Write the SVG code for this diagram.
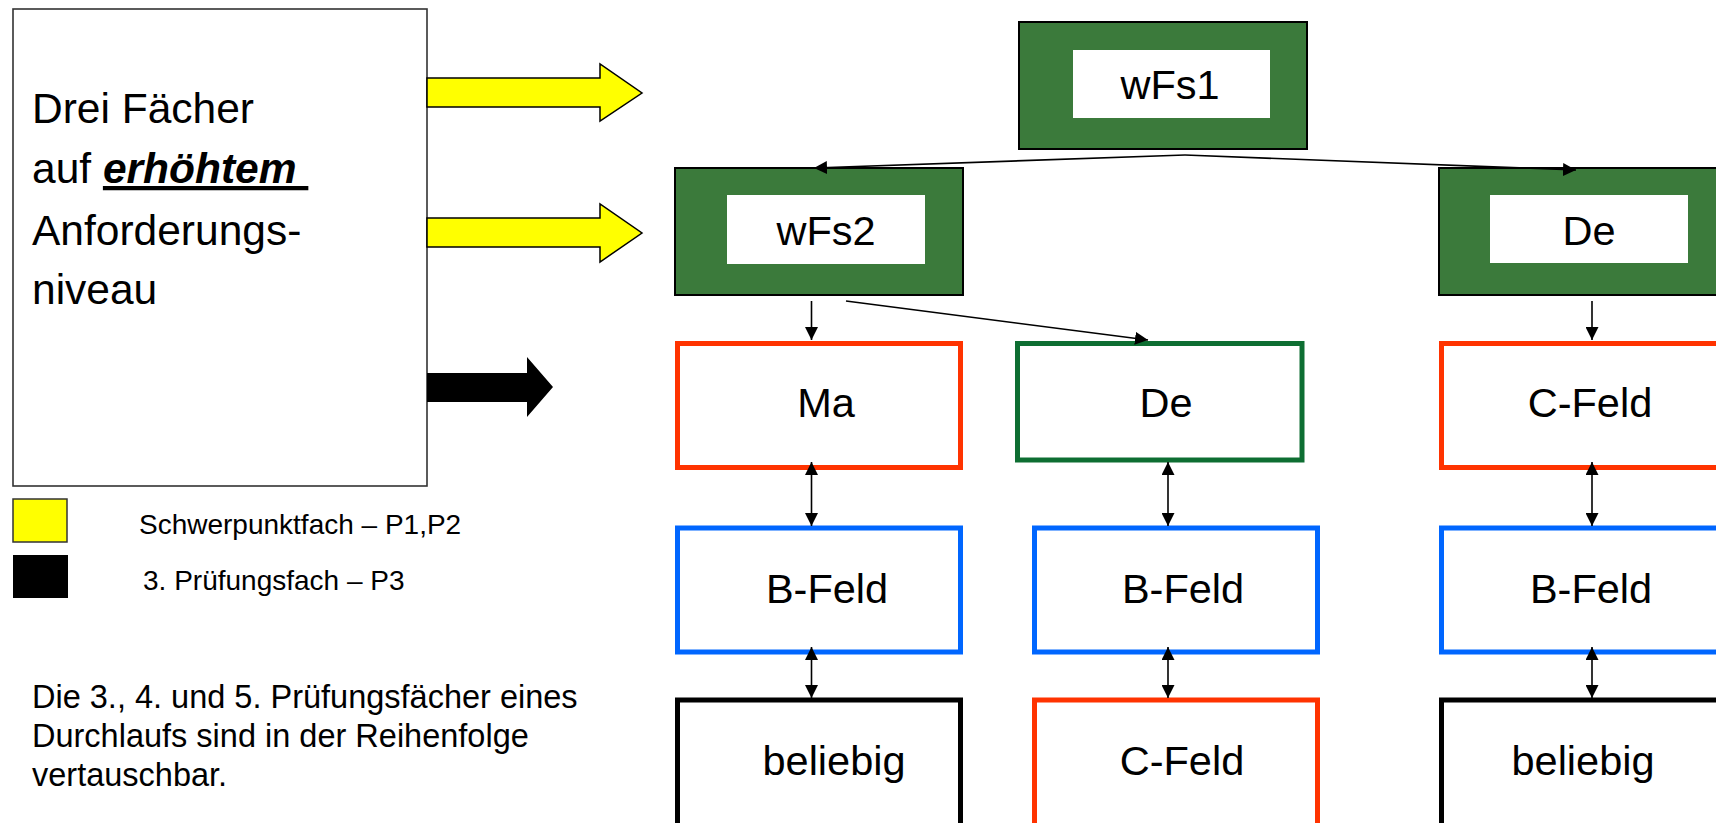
<svg xmlns="http://www.w3.org/2000/svg" width="1716" height="823" viewBox="0 0 1716 823">
  <style>
    text { font-family: "Liberation Sans", Arial, sans-serif; fill: #000; }
    .lbl { font-size: 41.5px; text-anchor: middle; }
    .big { font-size: 42.5px; }
    .leg { font-size: 28px; }
    .par { font-size: 32.5px; }
    .gbox { fill: #3b7a3b; stroke: #000; stroke-width: 2; }
    .inner { fill: #fff; stroke: none; }
    .red { fill: #fff; stroke: #ff3300; stroke-width: 5; }
    .blue { fill: #fff; stroke: #0066ff; stroke-width: 5; }
    .green { fill: #fff; stroke: #0e6e32; stroke-width: 5; }
    .black { fill: #fff; stroke: #000; stroke-width: 5; }
    .conn line { stroke: #000; stroke-width: 1.6; fill: none; }
    .fat { stroke: #000; stroke-width: 1.5; }
  </style>
  <defs>
    <marker id="ah" markerUnits="userSpaceOnUse" markerWidth="14" markerHeight="13" refX="13" refY="6.5" orient="auto-start-reverse">
      <path d="M0,0 L13,6.5 L0,13 z" fill="#000"/>
    </marker>
  </defs>

  <!-- left info box -->
  <g id="infobox">
    <rect x="13" y="9" width="414" height="477" fill="#fff" stroke="#333" stroke-width="1.6"/>
    <text class="big" x="32" y="123">Drei Fächer</text>
    <text class="big" x="32" y="183">auf <tspan font-weight="bold" font-style="italic" text-decoration="underline">erhöhtem&#160;</tspan></text>
    <text class="big" x="32" y="245">Anforderungs-</text>
    <text class="big" x="32" y="304">niveau</text>
  </g>

  <!-- big arrows -->
  <g id="fat-arrows">
    <polygon class="fat" fill="#ffff00" points="427,78 600,78 600,64 642,93 600,121 600,107 427,107"/>
    <polygon class="fat" fill="#ffff00" points="427,218 600,218 600,204 642,233 600,262 600,247 427,247"/>
    <polygon fill="#000" points="427,373 527,373 527,357 553,387 527,417 527,402 427,402"/>
  </g>

  <!-- legend -->
  <g id="legend">
    <rect x="13" y="499" width="54" height="43" fill="#ffff00" stroke="#333" stroke-width="1.5"/>
    <rect x="13" y="555" width="55" height="43" fill="#000"/>
    <text class="leg" x="139" y="534">Schwerpunktfach – P1,P2</text>
    <text class="leg" x="143" y="590">3. Prüfungsfach – P3</text>
  </g>

  <g id="note">
    <text class="par" x="32" y="708">Die 3., 4. und 5. Prüfungsfächer eines</text>
    <text class="par" x="32" y="747">Durchlaufs sind in der Reihenfolge</text>
    <text class="par" x="32" y="786">vertauschbar.</text>
  </g>

  <!-- green header nodes -->
  <g id="wFs1">
    <rect class="gbox" x="1019" y="22" width="288" height="127"/>
    <rect class="inner" x="1073" y="50" width="197" height="68"/>
    <text class="lbl" x="1170" y="99">wFs1</text>
  </g>
  <g id="wFs2">
    <rect class="gbox" x="675" y="168" width="288" height="127"/>
    <rect class="inner" x="727" y="195" width="198" height="69"/>
    <text class="lbl" x="826" y="245">wFs2</text>
  </g>
  <g id="De-top">
    <rect class="gbox" x="1439" y="168" width="290" height="127"/>
    <rect class="inner" x="1490" y="195" width="198" height="68"/>
    <text class="lbl" x="1589" y="245">De</text>
  </g>

  <!-- column 1 -->
  <g id="Ma">
    <rect class="red" x="677.5" y="343.5" width="283" height="124"/>
    <text class="lbl" x="826" y="417">Ma</text>
  </g>
  <g id="B-Feld-1">
    <rect class="blue" x="677.5" y="528" width="283" height="124"/>
    <text class="lbl" x="827" y="603">B-Feld</text>
  </g>
  <g id="beliebig-1">
    <rect class="black" x="677.5" y="700" width="283" height="140"/>
    <text class="lbl" x="834" y="775">beliebig</text>
  </g>

  <!-- column 2 -->
  <g id="De-mid">
    <rect class="green" x="1017.5" y="343.5" width="284.5" height="116.5"/>
    <text class="lbl" x="1166" y="417">De</text>
  </g>
  <g id="B-Feld-2">
    <rect class="blue" x="1034.5" y="528" width="283" height="124"/>
    <text class="lbl" x="1183" y="603">B-Feld</text>
  </g>
  <g id="C-Feld-2">
    <rect class="red" x="1034.5" y="700" width="283" height="140"/>
    <text class="lbl" x="1182" y="775">C-Feld</text>
  </g>

  <!-- column 3 -->
  <g id="C-Feld-3">
    <rect class="red" x="1441.5" y="343.5" width="283" height="124"/>
    <text class="lbl" x="1590" y="417">C-Feld</text>
  </g>
  <g id="B-Feld-3">
    <rect class="blue" x="1441.5" y="528" width="283" height="124"/>
    <text class="lbl" x="1591" y="603">B-Feld</text>
  </g>
  <g id="beliebig-3">
    <rect class="black" x="1441.5" y="700" width="283" height="140"/>
    <text class="lbl" x="1583" y="775">beliebig</text>
  </g>

  <!-- connectors -->
  <g id="connectors" class="conn">
    <line x1="1185" y1="155" x2="814" y2="168" marker-end="url(#ah)"/>
    <line x1="1185" y1="155" x2="1576" y2="170" marker-end="url(#ah)"/>
    <line x1="811.5" y1="301" x2="811.5" y2="340" marker-end="url(#ah)"/>
    <line x1="846" y1="301" x2="1148" y2="340" marker-end="url(#ah)"/>
    <line x1="1592" y1="301" x2="1592" y2="340" marker-end="url(#ah)"/>

    <line x1="811.5" y1="462" x2="811.5" y2="526" marker-start="url(#ah)" marker-end="url(#ah)"/>
    <line x1="1168" y1="462" x2="1168" y2="526" marker-start="url(#ah)" marker-end="url(#ah)"/>
    <line x1="1592" y1="462" x2="1592" y2="526" marker-start="url(#ah)" marker-end="url(#ah)"/>

    <line x1="811.5" y1="647" x2="811.5" y2="698" marker-start="url(#ah)" marker-end="url(#ah)"/>
    <line x1="1168" y1="647" x2="1168" y2="698" marker-start="url(#ah)" marker-end="url(#ah)"/>
    <line x1="1592" y1="647" x2="1592" y2="698" marker-start="url(#ah)" marker-end="url(#ah)"/>
  </g>
</svg>
